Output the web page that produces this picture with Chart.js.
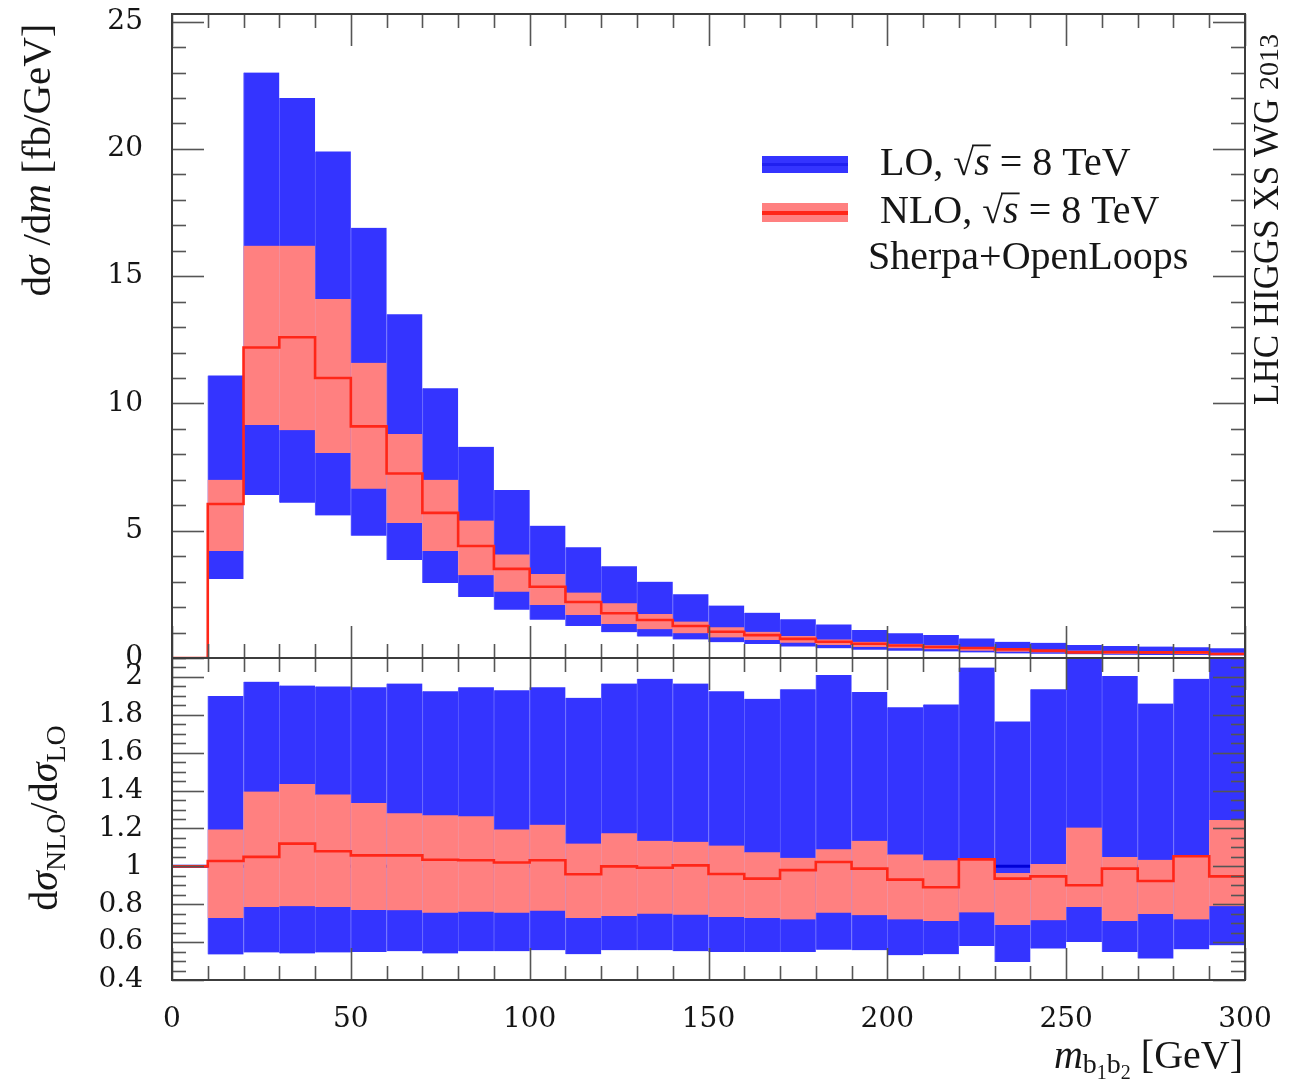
<!DOCTYPE html>
<html><head><meta charset="utf-8">
<script src="https://cdn.jsdelivr.net/npm/chart.js@4.4.1/dist/chart.umd.min.js"></script>
<style>
html,body{margin:0;padding:0;background:#fff;}
#wrap{position:relative;width:1310px;height:1084px;background:#fff;}
canvas{position:absolute;left:0;top:0;}
</style></head><body>
<div id="wrap"><canvas id="cTop" width="1310" height="1084"></canvas><canvas id="cBot" width="1310" height="1084"></canvas></div>
<script>
// ---------- data ----------
const binEdges = [10,20,30,40,50,60,70,80,90,100,110,120,130,140,150,160,170,180,190,200,210,220,230,240,250,260,270,280,290,300];
const xTickLabels = [0,50,100,150,200,250,300];
const yTickLabelsTop = [0,5,10,15,20,25];
const yTickLabelsRatio = [0.4,0.6,0.8,1,1.2,1.4,1.6,1.8,2];

// top panel: dsigma/dm [fb/GeV]
const loHigh     = [11.1,23.0,22.0,19.9,16.9,13.5,10.6,8.3,6.6,5.2,4.35,3.6,3.0,2.5,2.06,1.78,1.52,1.32,1.10,0.97,0.90,0.77,0.64,0.60,0.51,0.47,0.45,0.42,0.38];
const loLow      = [3.1,6.4,6.1,5.6,4.8,3.85,2.95,2.4,1.9,1.5,1.26,1.01,0.84,0.73,0.62,0.55,0.45,0.38,0.32,0.28,0.26,0.22,0.18,0.17,0.145,0.13,0.12,0.12,0.10];
const nloHigh    = [7.0,16.2,16.2,14.1,11.6,8.8,7.0,5.4,4.07,3.3,2.57,2.15,1.73,1.43,1.21,1.03,0.86,0.73,0.64,0.56,0.50,0.39,0.35,0.31,0.29,0.25,0.25,0.22,0.21];
const nloCentral = [6.05,12.2,12.6,11.0,9.1,7.25,5.7,4.4,3.5,2.8,2.2,1.76,1.49,1.26,1.03,0.90,0.75,0.64,0.56,0.49,0.43,0.39,0.34,0.29,0.22,0.23,0.22,0.22,0.16];
const nloLow     = [4.2,9.15,8.95,8.05,6.65,5.3,4.2,3.25,2.6,2.08,1.69,1.34,1.13,0.97,0.81,0.71,0.60,0.51,0.43,0.38,0.34,0.28,0.25,0.22,0.19,0.17,0.18,0.15,0.13];
const nloCentralUnderflow = 0;

// bottom panel: ratio to LO
const ratioLoHigh     = [1.90,1.975,1.955,1.95,1.945,1.965,1.925,1.945,1.93,1.945,1.89,1.965,1.99,1.965,1.925,1.885,1.935,2.01,1.92,1.84,1.855,2.05,1.765,1.935,2.2,2.005,1.86,1.99,2.2];
const ratioLoLow      = [0.535,0.545,0.54,0.545,0.548,0.552,0.54,0.552,0.552,0.557,0.536,0.557,0.557,0.552,0.548,0.548,0.548,0.56,0.557,0.531,0.536,0.58,0.495,0.566,0.60,0.548,0.513,0.562,0.583];
const ratioNloHigh    = [1.195,1.395,1.435,1.38,1.335,1.28,1.27,1.265,1.195,1.22,1.12,1.175,1.135,1.13,1.11,1.075,1.045,1.09,1.135,1.063,1.032,1.04,0.965,1.012,1.205,1.05,1.035,1.058,1.245];
const ratioNloCentral = [1.028,1.05,1.12,1.08,1.058,1.058,1.035,1.032,1.02,1.032,0.958,1.0,0.993,1.005,0.96,0.935,0.98,1.023,0.988,0.93,0.89,1.037,0.935,0.947,0.9,0.988,0.923,1.053,0.947];
const ratioNloLow     = [0.727,0.785,0.79,0.785,0.77,0.768,0.755,0.76,0.755,0.765,0.727,0.738,0.75,0.745,0.733,0.727,0.72,0.755,0.742,0.72,0.712,0.757,0.69,0.715,0.785,0.712,0.748,0.72,0.79];
const ratioLoCentral  = [1,1,1,1,1,1,1,1,1,1,1,1,1,1,1,1,1,1,1,1,1,1,1,1,1,1,1,1,1];
const ratioUnderflow = 1;

// ---------- helpers ----------
const X_MIN = 0, X_MAX = 300;
const BLUE = '#3434ff', BLUE_SEAM = '#6262ff', SALMON = '#ff8080', SALMON_SEAM = '#f2909e', RED = '#ff2618', DARKBLUE = '#0000d8';
const tickFont = {family: '"DejaVu Serif"', size: 28};
const SERIF = '"Liberation Serif"';

function bandData(lo, hi) {
  return lo.map((l, i) => ({x: (binEdges[i] + binEdges[i+1]) / 2, y: [l, hi[i]]}));
}
function stepData(first, vals) {
  const p = [{x: X_MIN, y: first}];
  vals.forEach((v, i) => p.push({x: binEdges[i], y: v}));
  p.push({x: binEdges[binEdges.length-1], y: vals[vals.length-1]});
  return p;
}
function bar(label, lo, hi, color, seam, order) {
  return {type: 'bar', label, data: bandData(lo, hi), backgroundColor: color, borderColor: seam,
    borderWidth: {left: 1, right: 0, top: 0, bottom: 0}, borderSkipped: false,
    grouped: false, barPercentage: 1, categoryPercentage: 1, order};
}
function step(label, first, vals, color, width, order) {
  return {type: 'line', label, data: stepData(first, vals), stepped: true, borderColor: color,
    borderWidth: width, pointRadius: 0, fill: false, order, borderJoinStyle: 'miter'};
}

function frameTicksPlugin(ySpec) {
  return {
    id: 'frameTicks',
    afterDraw(chart) {
      const {ctx, chartArea: a, scales: {x, y}} = chart;
      ctx.save();
      ctx.strokeStyle = '#555';
      ctx.lineWidth = 1.6;
      const seg = (x1, y1, x2, y2) => { ctx.beginPath(); ctx.moveTo(x1, y1); ctx.lineTo(x2, y2); ctx.stroke(); };
      for (let k = 0; k <= 30; k++) {
        const v = X_MIN + k * 10;
        const px = Math.round(x.getPixelForValue(v)) + 0.5;
        const L = (v % 50 === 0) ? 32 : 14;
        seg(px, a.bottom, px, a.bottom - L);
        seg(px, a.top, px, a.top + L);
      }
      const n = Math.round((ySpec.max - ySpec.min) / ySpec.step);
      for (let k = 0; k <= n; k++) {
        const v = ySpec.min + k * ySpec.step;
        const py = Math.round(y.getPixelForValue(v)) + 0.5;
        const major = Math.abs(((v - ySpec.min) / ySpec.major) - Math.round((v - ySpec.min) / ySpec.major)) < 1e-6;
        const L = major ? 32 : 14;
        seg(a.left, py, a.left + L, py);
        seg(a.right, py, a.right - L, py);
      }
      ctx.strokeStyle = '#3c3c3c';
      ctx.lineWidth = 2;
      ctx.strokeRect(a.left, a.top, a.right - a.left, a.bottom - a.top);
      ctx.restore();
    }
  };
}

// text runs: {t, size, italic, dy}
function runsWidth(ctx, runs) {
  let w = 0;
  for (const r of runs) { ctx.font = (r.italic ? 'italic ' : '') + r.size + 'px ' + SERIF; w += ctx.measureText(r.t).width + (r.gap || 0); }
  return w;
}
function drawRuns(ctx, runs, x, y) {
  let cx = x;
  for (const r of runs) {
    ctx.font = (r.italic ? 'italic ' : '') + r.size + 'px ' + SERIF;
    ctx.fillText(r.t, cx, y + (r.dy || 0));
    const w = ctx.measureText(r.t).width;
    if (r.over) {
      ctx.save(); ctx.lineWidth = 1.8; ctx.strokeStyle = ctx.fillStyle;
      ctx.beginPath(); ctx.moveTo(cx - 2, y - r.size * 0.74); ctx.lineTo(cx + w + 1, y - r.size * 0.74); ctx.stroke(); ctx.restore();
    }
    cx += w + (r.gap || 0);
  }
  return cx - x;
}
function drawRotated(ctx, runs, baseX, anchorY, centered) {
  ctx.save();
  ctx.translate(baseX, anchorY);
  ctx.rotate(-Math.PI / 2);
  const w = runsWidth(ctx, runs);
  drawRuns(ctx, runs, centered ? -w / 2 : 0, 0);
  ctx.restore();
}

const textPlugin = {
  id: 'texts',
  afterDraw(chart) {
    const ctx = chart.ctx;
    ctx.save();
    ctx.fillStyle = '#161616';
    ctx.textBaseline = 'alphabetic';
    ctx.textAlign = 'left';
    // top y title
    drawRotated(ctx, [
      {t: 'd', size: 41}, {t: 'σ', size: 41, italic: true}, {t: ' /d', size: 41}, {t: 'm', size: 41, italic: true},
      {t: ' [fb/GeV]', size: 41}], 50, 160, true);
    // ratio y title
    drawRotated(ctx, [
      {t: 'd', size: 40}, {t: 'σ', size: 40, italic: true}, {t: 'NLO', size: 28, dy: 8},
      {t: '/d', size: 40}, {t: 'σ', size: 40, italic: true}, {t: 'LO', size: 28, dy: 8}], 57, 818, true);
    // x title
    const xr = [{t: 'm', size: 40, italic: true}, {t: 'b', size: 28, dy: 5}, {t: '1', size: 20, dy: 11},
      {t: 'b', size: 28, dy: 5}, {t: '2', size: 20, dy: 11}, {t: ' [GeV]', size: 40}];
    drawRuns(ctx, xr, 1243 - runsWidth(ctx, xr), 1068);
    // right side label
    drawRotated(ctx, [{t: 'LHC HIGGS XS WG ', size: 35}, {t: '2013', size: 28}], 1278, 405, false);
    // legend
    ctx.fillStyle = BLUE; ctx.fillRect(762, 156, 86, 17);
    ctx.fillStyle = '#2020f0'; ctx.fillRect(762, 163, 86, 3);
    ctx.fillStyle = SALMON; ctx.fillRect(762, 203, 86, 19);
    ctx.fillStyle = RED; ctx.fillRect(762, 211, 86, 4);
    ctx.fillStyle = '#161616';
    const sq = (lead) => [{t: lead, size: 40}, {t: '√', size: 38, gap: 0}, {t: 's', size: 40, italic: true, over: true},
      {t: ' = 8 TeV', size: 40}];
    drawRuns(ctx, sq('LO, '), 880, 175);
    drawRuns(ctx, sq('NLO, '), 880, 223);
    drawRuns(ctx, [{t: 'Sherpa+OpenLoops', size: 40}], 868, 269);
    ctx.restore();
  }
};

const tickCb = v => String(+(+v).toFixed(2));
const noPad = s => { s.paddingTop = 0; s.paddingBottom = 0; };

// ---------- top chart ----------
new Chart(document.getElementById('cTop'), {
  type: 'bar',
  data: {datasets: [
    bar('LO, √s = 8 TeV', loLow, loHigh, BLUE, BLUE_SEAM, 4),
    bar('NLO, √s = 8 TeV', nloLow, nloHigh, SALMON, SALMON_SEAM, 2),
    step('NLO central', nloCentralUnderflow, nloCentral, RED, 2.6, 1)
  ]},
  options: {
    responsive: false, animation: false, events: [],
    layout: {padding: {left: 0, right: 65, top: 14, bottom: 426}},
    plugins: {legend: {display: false}, tooltip: {enabled: false}},
    scales: {
      x: {type: 'linear', min: X_MIN, max: X_MAX, offset: false, display: false, grid: {display: false, offset: false}},
      y: {type: 'linear', min: 0, max: 25.3, grid: {display: false}, border: {display: false},
          ticks: {font: tickFont, color: '#151515', padding: 21, callback: tickCb},
          afterBuildTicks: s => { s.ticks = yTickLabelsTop.map(v => ({value: v})); },
          afterFit: s => { s.width = 172; noPad(s); }}
    }
  },
  plugins: [frameTicksPlugin({min: 0, max: 25, step: 1, major: 5})]
});

// ---------- ratio chart ----------
new Chart(document.getElementById('cBot'), {
  type: 'bar',
  data: {datasets: [
    bar('LO band', ratioLoLow, ratioLoHigh, BLUE, BLUE_SEAM, 4),
    step('LO central', ratioUnderflow, ratioLoCentral, DARKBLUE, 3, 3),
    bar('NLO band', ratioNloLow, ratioNloHigh, SALMON, SALMON_SEAM, 2),
    step('NLO central', ratioUnderflow, ratioNloCentral, RED, 2.6, 1)
  ]},
  options: {
    responsive: false, animation: false, events: [],
    layout: {padding: {left: 0, right: 65, top: 658, bottom: 0}},
    plugins: {legend: {display: false}, tooltip: {enabled: false}},
    scales: {
      x: {type: 'linear', min: X_MIN, max: X_MAX, offset: false, grid: {display: false, offset: false}, border: {display: false},
          ticks: {font: tickFont, color: '#151515', padding: 15, maxRotation: 0, autoSkip: false, callback: tickCb},
          afterBuildTicks: s => { s.ticks = xTickLabels.map(v => ({value: v})); },
          afterFit: s => { s.height = 104; }},
      y: {type: 'linear', min: 0.4, max: 2.1, grid: {display: false}, border: {display: false},
          ticks: {font: tickFont, color: '#151515', padding: 21, callback: tickCb},
          afterBuildTicks: s => { s.ticks = yTickLabelsRatio.map(v => ({value: v})); },
          afterFit: s => { s.width = 172; noPad(s); }}
    }
  },
  plugins: [frameTicksPlugin({min: 0.4, max: 2.1, step: 0.05, major: 0.2}), textPlugin]
});
</script>
</body></html>
